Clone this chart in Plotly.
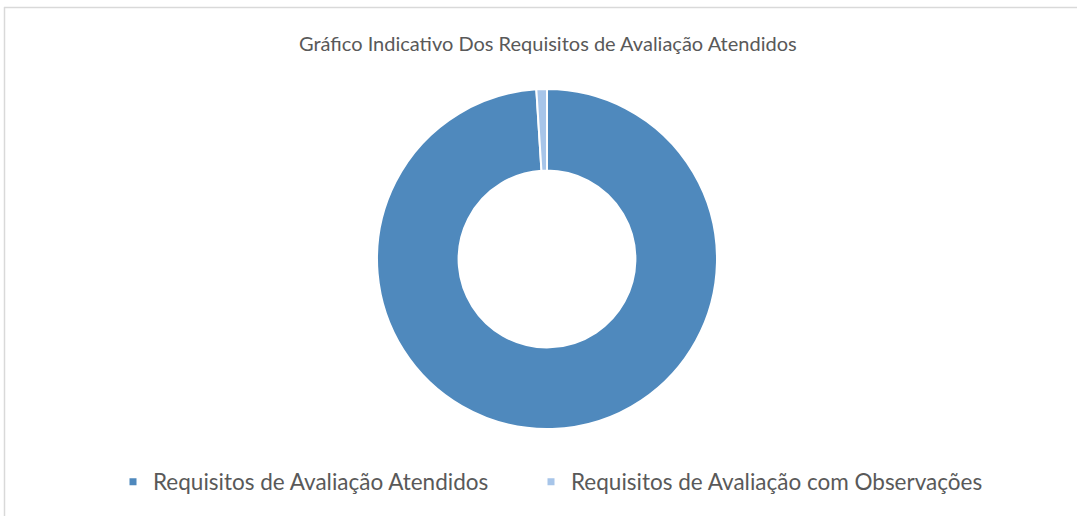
import plotly.graph_objects as go

labels = ["Requisitos de Avaliação Atendidos", "Requisitos de Avaliação com Observações"]
values = [99, 1]
colors = ["#4f89bd", "#a7c5e9"]
title_text = "Gráfico Indicativo Dos Requisitos de Avaliação Atendidos"

W, H = 1077, 516
FONT = "Lato, sans-serif"

fig = go.Figure()
fig.add_trace(go.Pie(
    labels=labels,
    values=values,
    hole=0.52,
    sort=False,
    direction="clockwise",
    rotation=0,
    textinfo="none",
    hoverinfo="label+value+percent",
    showlegend=False,
    marker=dict(colors=colors, line=dict(color="white", width=2)),
    domain=dict(x=[377 / W, 717 / W], y=[87 / H, 427 / H]),
))

# legend entries with small square keys, one legend per entry
legend_ids = ["legend", "legend2"]
for lab, col, lid in zip(labels, colors, legend_ids):
    fig.add_trace(go.Scatter(
        x=[None], y=[None], mode="markers", name=lab,
        marker=dict(symbol="square", size=7, color=col),
        hoverinfo="skip", showlegend=True, legend=lid,
    ))

leg_common = dict(
    orientation="h",
    xanchor="left",
    y=34 / H, yanchor="middle",
    font=dict(size=22.5, color="#595959", family=FONT),
    bgcolor="rgba(0,0,0,0)",
)

fig.update_layout(
    width=W, height=H,
    margin=dict(l=0, r=0, t=0, b=0),
    paper_bgcolor="white",
    plot_bgcolor="white",
    font=dict(family=FONT, color="#595959"),
    xaxis=dict(visible=False),
    yaxis=dict(visible=False),
    showlegend=True,
    legend=dict(x=113 / W, **leg_common),
    legend2=dict(x=531 / W, **leg_common),
    annotations=[dict(
        text=title_text, x=548 / W, y=1 - 43 / H, xref="paper", yref="paper",
        xanchor="center", yanchor="middle", showarrow=False,
        font=dict(size=20, color="#595959", family=FONT),
    )],
    shapes=[
        dict(type="line", xref="paper", yref="paper", x0=4 / W, x1=1.0, y0=1 - 7.5 / H, y1=1 - 7.5 / H,
             line=dict(color="#d9d9d9", width=1.5)),
        dict(type="line", xref="paper", yref="paper", x0=4.5 / W, x1=4.5 / W, y0=0, y1=1 - 7 / H,
             line=dict(color="#d9d9d9", width=1.5)),
    ],
)

fig.write_html("out.html", config={"displayModeBar": False},
               post_script="document.body.style.margin='0';document.body.style.overflow='hidden';")
